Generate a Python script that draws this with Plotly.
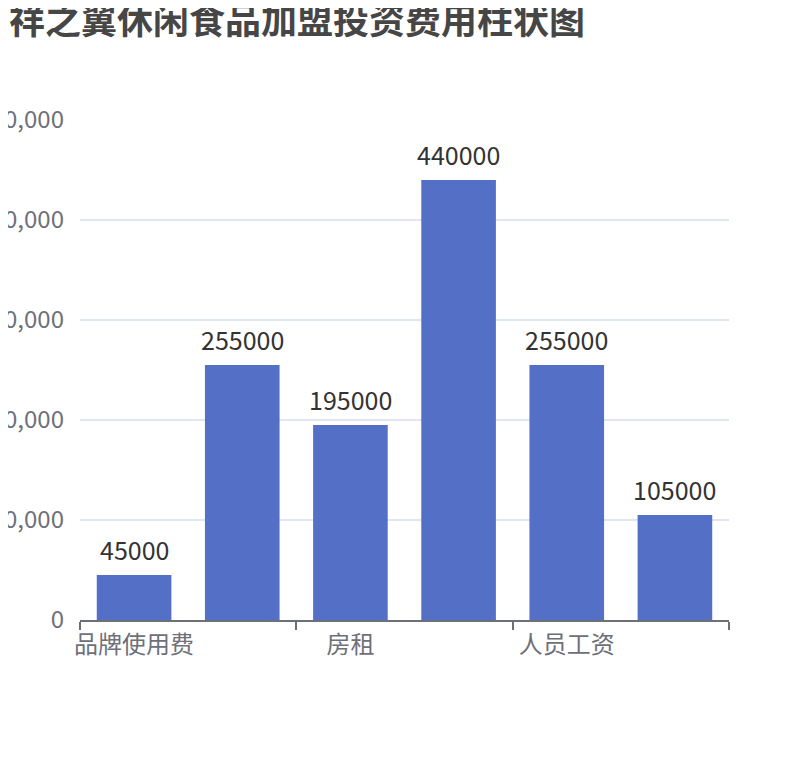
import plotly.graph_objects as go

# franchise investment cost items (only every other label is shown on the axis)
categories = ['品牌使用费', '装修费用', '房租', '设备费用', '人员工资', '流动资金']
costs = [45000, 255000, 195000, 440000, 255000, 105000]

y_ticks = [0, 100000, 200000, 300000, 400000, 500000]

font_cn = 'Noto Sans CJK SC, Microsoft YaHei, sans-serif'

fig = go.Figure()

xs = list(range(len(categories)))

fig.add_trace(
    go.Bar(x=xs,
           y=costs,
           width=0.69,
           marker=dict(color='#5470c6', line=dict(width=0)),
           hoverinfo='x+y'))

# value labels above the bars
for x, v in zip(xs, costs):
    fig.add_annotation(x=x, y=v, xref='x', yref='y',
                       text=str(v), showarrow=False,
                       yanchor='bottom', yshift=6,
                       font=dict(family=font_cn, size=25, color='#333333'))

# shown labels sit on every second category
shown = list(range(0, len(categories), 2))

fig.update_layout(
    width=810,
    height=760,
    paper_bgcolor='white',
    plot_bgcolor='white',
    showlegend=False,
    margin=dict(l=72, r=89, t=112, b=148, autoexpand=False),
    font=dict(family=font_cn),
    title=dict(text='<b>祥之翼休闲食品加盟投资费用柱状图</b>',
               font=dict(family=font_cn, size=36, color='#464646'),
               x=1 / 810, xanchor='left', xref='container',
               y=1 - 1 / 760, yanchor='top', yref='container'),
    xaxis=dict(range=[-0.5, len(categories) - 0.5],
               tickmode='array',
               tickvals=[i - 0.5 for i in shown] + [len(categories) - 0.5],
               ticktext=[''] * (len(shown) + 1),
               ticks='outside', ticklen=8, tickwidth=1.5, tickcolor='#6e7079',
               showline=True, linecolor='#6e7079', linewidth=1.5,
               showgrid=False, zeroline=False, fixedrange=True,
               automargin=False),
    xaxis2=dict(range=[-0.5, len(categories) - 0.5],
                overlaying='x', side='bottom', anchor='y',
                tickmode='array',
                tickvals=shown,
                ticktext=[categories[i] for i in shown],
                tickfont=dict(family=font_cn, size=24, color='#6e7079'),
                ticks='', ticklabelstandoff=8,
                showline=False, showgrid=False, zeroline=False,
                automargin=False),
    yaxis=dict(range=[0, 500000],
               tickmode='array',
               tickvals=y_ticks,
               ticktext=[f'{v:,}' for v in y_ticks],
               tickfont=dict(family=font_cn, size=24, color='#6e7079'),
               ticks='', ticklabelstandoff=15,
               showgrid=True, gridcolor='#e0e6f1', gridwidth=1.5,
               zeroline=False, showline=False, automargin=False),
)

fig.add_trace(go.Scatter(x=[None], y=[None], xaxis='x2', showlegend=False,
                         hoverinfo='skip'))

fig.write_html('out.html')
